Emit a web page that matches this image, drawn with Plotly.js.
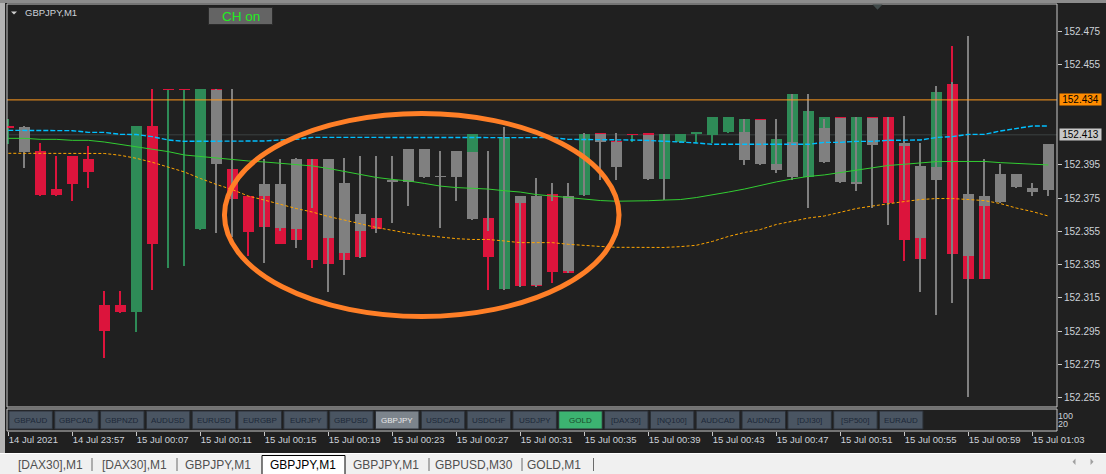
<!DOCTYPE html>
<html><head><meta charset="utf-8">
<script src="https://cdn.plot.ly/plotly-3.0.1.min.js"></script>
<style>html,body{margin:0;padding:0;background:#202020;overflow:hidden}#chart{width:1106px;height:474px}</style>
</head><body><div id="chart"></div>
<script>
// ---------- DATA ----------
const barIndex = [0,1,2,3,4,5,6,7,8,9,10,11,12,13,14,15,16,17,18,19,20,21,22,23,24,25,26,27,28,29,30,31,32,33,34,35,36,37,38,39,40,41,42,43,44,45,46,47,48,49,50,51,52,53,54,55,56,57,58,59,60,61,62,63,64,65];
const timeTickBars = [0,4,8,12,16,20,24,28,32,36,40,44,48,52,56,60,64];
const timeTickLabels = ["14 Jul 2021","14 Jul 23:57","15 Jul 00:07","15 Jul 00:11","15 Jul 00:15","15 Jul 00:19","15 Jul 00:23","15 Jul 00:27","15 Jul 00:31","15 Jul 00:35","15 Jul 00:39","15 Jul 00:43","15 Jul 00:47","15 Jul 00:51","15 Jul 00:55","15 Jul 00:59","15 Jul 01:03"];
const priceTicks = [152.255,152.275,152.295,152.315,152.335,152.355,152.375,152.395,152.455,152.475];

// coloured (main) candles
const cOpen  = [152.4177,null,152.4033,152.3805,152.4003,152.3985,152.3107,152.3107,152.3065,152.4183,152.4404,152.4404,152.3566,152.4406,152.3925,152.3762,152.3762,152.3835,152.3564,152.3983,152.3512,152.3418,152.3552,152.3630,null,null,null,null,null,152.4027,152.3630,152.3203,152.3720,152.3762,152.3773,152.3762,152.3768,152.4140,152.4096,152.4133,152.4140,152.3865,152.4089,152.4133,152.4131,152.4149,152.4149,152.4228,152.3955,152.4089,152.3877,152.4171,152.4240,152.3847,152.4240,152.4237,152.4065,152.3512,152.3937,152.4437,152.3402,152.3704,null,null,null,null];
const cHigh  = [152.4225,null,152.4081,152.4003,152.4003,152.4063,152.3191,152.3191,152.4183,152.4406,152.4406,152.4406,152.4406,152.4406,152.3925,152.3762,152.3762,152.3835,152.3564,152.3983,152.3512,152.3418,152.3552,152.3630,null,null,null,null,null,152.4133,152.3630,152.4117,152.3720,152.3762,152.3773,152.3762,152.4133,152.4140,152.4096,152.4133,152.4140,152.4133,152.4133,152.4147,152.4237,152.4237,152.4225,152.4228,152.4105,152.4375,152.4273,152.4237,152.4240,152.4237,152.4240,152.4237,152.4065,152.3512,152.4389,152.4664,152.3402,152.3704,null,null,null,null];
const cLow   = [152.4075,null,152.3764,152.3764,152.3734,152.3812,152.2790,152.3061,152.2947,152.3197,152.3331,152.3343,152.3558,152.4300,152.3743,152.3404,152.3578,152.3474,152.3498,152.3331,152.3354,152.3378,152.3398,152.3564,null,null,null,null,null,152.4027,152.3197,152.3203,152.3221,152.3221,152.3239,152.3302,152.3768,152.4090,152.4000,152.4085,152.4000,152.3865,152.4079,152.4079,152.4081,152.4143,152.4149,152.4000,152.3955,152.4089,152.3877,152.4171,152.4000,152.3847,152.4100,152.3718,152.3373,152.3384,152.3937,152.3414,152.3265,152.3265,null,null,null,null];
const cClose = [152.4177,null,152.3768,152.3768,152.3836,152.3908,152.2953,152.3067,152.4183,152.3474,152.4404,152.4404,152.4406,152.4300,152.3743,152.3548,152.3578,152.3474,152.3498,152.3378,152.3354,152.3378,152.3398,152.3564,null,null,null,null,null,152.4133,152.3398,152.4117,152.3221,152.3221,152.3306,152.3302,152.4133,152.4090,152.4000,152.4133,152.4000,152.4133,152.4133,152.4147,152.4237,152.4237,152.4225,152.4000,152.4105,152.4375,152.4273,152.4237,152.4000,152.4237,152.4100,152.3718,152.3498,152.3384,152.4389,152.3414,152.3265,152.3265,null,null,null,null];

// grey overlay candles (body top / bottom, wick high / low)
const gTop  = [null,152.4177,null,null,null,null,null,null,null,null,null,null,null,152.4397,null,null,152.3835,152.3835,152.3985,null,152.3985,152.3841,152.3654,null,152.3853,152.4045,152.4045,152.3881,152.4033,152.4027,null,null,152.3762,152.3762,null,152.3762,null,152.4133,152.4089,null,152.4130,null,null,null,null,null,152.4149,152.4221,152.3955,152.4089,null,152.4171,152.4230,152.3847,152.4230,null,152.4081,152.3945,152.3937,null,152.3774,152.3762,152.3895,152.3895,152.3812,152.4075];
const gBot  = [null,152.4029,null,null,null,null,null,null,null,null,null,null,null,152.3957,null,null,152.3762,152.3572,152.3564,null,152.3512,152.3418,152.3552,null,152.3853,152.3848,152.3878,152.3881,152.3878,152.3626,null,null,152.3720,152.3226,null,152.3310,null,152.4089,152.3937,null,152.3865,null,null,null,null,null,152.3979,152.3955,152.3919,152.3877,null,152.3967,152.3847,152.3835,152.4069,null,152.4065,152.3512,152.3859,null,152.3402,152.3704,152.3726,152.3818,152.3788,152.3800];
const gHigh = [null,152.4185,null,null,null,null,null,null,null,null,null,null,null,152.4406,152.4406,null,152.3983,152.3983,152.3991,152.3983,152.3985,152.3991,152.4003,152.4003,152.4003,152.4045,152.4045,152.4033,152.4033,152.4027,152.4033,152.4177,152.3762,152.3871,152.3841,152.3841,152.4139,152.4133,152.4139,null,152.4130,152.4133,null,null,null,null,152.4225,152.4221,152.4225,152.4375,152.4375,152.4225,152.4230,152.4237,152.4230,152.4237,152.4243,152.4081,152.4424,152.4449,152.4724,152.3985,152.3955,152.3895,152.3841,152.4075];
const gLow  = [null,152.3933,null,null,null,null,null,null,null,null,null,null,null,152.3542,152.3518,null,152.3361,152.3554,152.3452,152.3692,152.3187,152.3288,152.3392,152.3542,152.3602,152.3702,152.3872,152.3572,152.3732,152.3618,152.3554,152.3197,152.3217,152.3217,152.3732,152.3301,152.3762,152.3859,152.3859,null,152.3859,152.3738,null,null,null,null,152.3949,152.3949,152.3901,152.3859,152.3692,152.3961,152.3841,152.3792,152.3692,152.3588,152.3738,152.3187,152.3049,152.3121,152.2556,152.3262,152.3720,152.3812,152.3764,152.3764];

// moving averages
const maBlue   = [152.4157,152.4157,152.4157,152.4157,152.4155,152.4145,152.4145,152.4133,152.4132,152.4119,152.4099,152.4091,152.4091,152.4091,152.4091,152.4091,152.4093,152.4099,152.4103,152.4115,152.4115,152.4115,152.4115,152.4115,152.4115,152.4115,152.4115,152.4115,152.4115,152.4113,152.4113,152.4113,152.4113,152.4113,152.4113,152.4103,152.4103,152.4099,152.4099,152.4099,152.4096,152.4093,152.4087,152.4081,152.4073,152.4073,152.4073,152.4073,152.4073,152.4073,152.4073,152.4085,152.4085,152.4091,152.4091,152.4097,152.4099,152.4099,152.4114,152.4119,152.4133,152.4133,152.4153,152.4169,152.4183,152.4183];
const maGreen  = [152.4109,152.4109,152.4103,152.4103,152.4097,152.4097,152.4087,152.4073,152.4061,152.4045,152.4029,152.4009,152.3999,152.3989,152.3979,152.3973,152.3967,152.3958,152.3952,152.3943,152.3928,152.3910,152.3892,152.3874,152.3862,152.3853,152.3838,152.3822,152.3813,152.3810,152.3804,152.3794,152.3786,152.3771,152.3762,152.3753,152.3741,152.3735,152.3731,152.3731,152.3734,152.3738,152.3741,152.3753,152.3768,152.3786,152.3804,152.3826,152.3847,152.3865,152.3880,152.3889,152.3904,152.3919,152.3934,152.3946,152.3953,152.3959,152.3969,152.3970,152.3971,152.3970,152.3963,152.3957,152.3952,152.3949];
const maOrange = [152.4019,152.4019,152.4019,152.4019,152.4019,152.4019,152.4018,152.4007,152.3989,152.3965,152.3934,152.3907,152.3868,152.3832,152.3801,152.3762,152.3738,152.3711,152.3687,152.3666,152.3639,152.3618,152.3595,152.3573,152.3556,152.3538,152.3526,152.3516,152.3506,152.3501,152.3501,152.3492,152.3482,152.3482,152.3482,152.3472,152.3464,152.3459,152.3454,152.3453,152.3450,152.3453,152.3458,152.3466,152.3489,152.3519,152.3543,152.3561,152.3591,152.3609,152.3630,152.3642,152.3663,152.3687,152.3702,152.3717,152.3729,152.3741,152.3747,152.3747,152.3741,152.3735,152.3717,152.3690,152.3669,152.3642];

const askPrice = 152.434;
const bidPrice = 152.413;
const highlight = {barFrom: 13.51, barTo: 38.17, priceLow: 152.3038, priceHigh: 152.4258};

const symbolButtons = ["GBPAUD","GBPCAD","GBPNZD","AUDUSD","EURUSD","EURGBP","EURJPY","GBPUSD","GBPJPY","USDCAD","USDCHF","USDJPY","GOLD","[DAX30]","[NQ100]","AUDCAD","AUDNZD","[DJI30]","[SP500]","EURAUD"];
const tabLabels = ["[DAX30],M1","[DAX30],M1","GBPJPY,M1","GBPJPY,M1","GBPJPY,M1","GBPUSD,M30","GOLD,M1"];
const subScaleTicks = [20,100];

// ---------- STYLE ----------
const BG = '#202020', FRAME = '#c8c8c8', TXT = '#cdd2d8';
const GREEN = '#2e8b57', RED = '#dc143c', GREY = '#808080';
const SANS = 'Liberation Sans, Arial, sans-serif';
const MINH = 0.0007;

// pixel -> paper helpers for chrome (plot area: x 7..1057, y 4..431)
const PX = p => (p - 7) / 1050;
const PY = p => (431 - p) / 427;

function bodyBase(o, c) { if (o == null || c == null) return null; const d = Math.abs(c - o); return Math.min(o, c) - (d < MINH ? (MINH - d) / 2 : 0); }
function bodyLen(o, c) { if (o == null || c == null) return null; return Math.max(Math.abs(c - o), MINH); }

const cBodyColor = barIndex.map(i => (cClose[i] > cOpen[i]) ? GREEN : RED);
const cWickColor = barIndex.map(i => (cClose[i] >= cOpen[i]) ? GREEN : RED);

const common = {type: 'bar', x: barIndex, hoverinfo: 'skip', yaxis: 'y', xaxis: 'x', showlegend: false};
const traces = [
  Object.assign({}, common, {base: cLow, y: barIndex.map(i => cHigh[i] == null ? null : cHigh[i] - cLow[i]), width: 0.125, marker: {color: cWickColor, line: {width: 0}}}),
  Object.assign({}, common, {base: barIndex.map(i => bodyBase(cOpen[i], cClose[i])), y: barIndex.map(i => bodyLen(cOpen[i], cClose[i])), width: 0.6875, marker: {color: cBodyColor, line: {width: 0}}}),
  Object.assign({}, common, {base: gLow, y: barIndex.map(i => gHigh[i] == null ? null : gHigh[i] - gLow[i]), width: 0.125, marker: {color: GREY, line: {width: 0}}}),
  Object.assign({}, common, {base: barIndex.map(i => bodyBase(gTop[i], gBot[i])), y: barIndex.map(i => bodyLen(gTop[i], gBot[i])), width: 0.6875, marker: {color: GREY, line: {width: 0}}}),
  {type: 'scatter', mode: 'lines', x: barIndex, y: maGreen, line: {color: '#32cd32', width: 1}, hoverinfo: 'skip', showlegend: false},
  {type: 'scatter', mode: 'lines', x: barIndex, y: maOrange, line: {color: '#ffa500', width: 1, dash: '3px,2px'}, hoverinfo: 'skip', showlegend: false},
  {type: 'scatter', mode: 'lines', x: barIndex, y: maBlue, line: {color: '#00bfff', width: 1.4, dash: '5px,2px'}, hoverinfo: 'skip', showlegend: false},
  {type: 'scatter', mode: 'markers', x: [0, 0], y: subScaleTicks, yaxis: 'y2', marker: {opacity: 0}, hoverinfo: 'skip', showlegend: false}
];

const shapes = [
  // window chrome
  {type: 'rect', xref: 'paper', yref: 'paper', x0: PX(0), x1: PX(5), y0: PY(453), y1: PY(0), fillcolor: '#b4b4b4', line: {width: 0}},
  {type: 'rect', xref: 'paper', yref: 'paper', x0: PX(0), x1: PX(1106), y0: PY(3), y1: PY(0), fillcolor: '#8c8c8c', line: {width: 0}},
  {type: 'rect', xref: 'paper', yref: 'paper', x0: PX(0), x1: PX(1106), y0: PY(474), y1: PY(453), fillcolor: '#f0f0f0', line: {width: 0}},
  {type: 'line', xref: 'paper', yref: 'paper', x0: PX(0), x1: PX(1106), y0: PY(453.5), y1: PY(453.5), line: {color: '#ffffff', width: 1}},
  // bid line (behind candles)
  {type: 'line', layer: 'below', xref: 'x domain', yref: 'y', x0: 0, x1: 1, y0: bidPrice, y1: bidPrice, line: {color: '#3c4242', width: 1}},
  // ask line
  {type: 'line', xref: 'x domain', yref: 'y', x0: 0, x1: 1, y0: askPrice, y1: askPrice, line: {color: '#ff9a1e', width: 1}},
  // frames
  {type: 'rect', xref: 'x domain', yref: 'y domain', x0: 0, x1: 1, y0: 0, y1: 1, line: {color: FRAME, width: 1}},
  {type: 'rect', xref: 'x domain', yref: 'y2 domain', x0: 0, x1: 1, y0: 0, y1: 1, line: {color: FRAME, width: 1}},
  // highlight ellipse
  {type: 'circle', xref: 'x', yref: 'y', x0: highlight.barFrom, x1: highlight.barTo, y0: highlight.priceLow, y1: highlight.priceHigh, line: {color: '#ff7f27', width: 5}},
  // title triangle
  {type: 'path', xref: 'paper', yref: 'paper', path: `M ${PX(11)} ${PY(11.5)} L ${PX(17)} ${PY(11.5)} L ${PX(14)} ${PY(14.5)} Z`, fillcolor: '#d0d0d0', line: {width: 0}},
  // shift marker
  {type: 'path', xref: 'paper', yref: 'paper', path: `M ${PX(872.5)} ${PY(4.5)} L ${PX(882.5)} ${PY(4.5)} L ${PX(877.5)} ${PY(9.7)} Z`, fillcolor: '#404a4a', line: {width: 0}},
  // CH on button
  {type: 'rect', xref: 'paper', yref: 'paper', x0: PX(208.5), x1: PX(272.5), y0: PY(24.5), y1: PY(7.5), fillcolor: '#646464', line: {color: '#2a2a2a', width: 1}},
  // active tab
  {type: 'rect', xref: 'paper', yref: 'paper', x0: PX(262), x1: PX(345), y0: PY(475), y1: PY(455.5), fillcolor: '#ffffff', line: {color: '#000000', width: 1}},
  // tab scroll arrows
  {type: 'path', xref: 'paper', yref: 'paper', path: `M ${PX(1075.5)} ${PY(458.5)} L ${PX(1075.5)} ${PY(465)} L ${PX(1072.5)} ${PY(461.7)} Z`, fillcolor: '#a0a0a0', line: {width: 0}},
  {type: 'path', xref: 'paper', yref: 'paper', path: `M ${PX(1090.5)} ${PY(458.5)} L ${PX(1090.5)} ${PY(465)} L ${PX(1093.5)} ${PY(461.7)} Z`, fillcolor: '#a0a0a0', line: {width: 0}}
];

const annotations = [
  {xref: 'paper', yref: 'paper', x: PX(22.5), y: PY(12.5), xanchor: 'left', yanchor: 'middle', text: 'GBPJPY,M1', showarrow: false, font: {family: SANS, size: 9.5, color: TXT}},
  {xref: 'paper', yref: 'paper', x: PX(240.5), y: PY(16), xanchor: 'center', yanchor: 'middle', text: 'CH on', showarrow: false, font: {family: SANS, size: 13.5, color: '#22ee22'}},
  {xref: 'paper', yref: 'y', x: PX(1059), y: askPrice, xanchor: 'left', yanchor: 'middle', text: askPrice.toFixed(3), showarrow: false, bgcolor: '#ff8c00', borderpad: 0, width: 41, height: 11, font: {family: SANS, size: 10, color: '#000000'}},
  {xref: 'paper', yref: 'y', x: PX(1059), y: bidPrice, xanchor: 'left', yanchor: 'middle', text: bidPrice.toFixed(3), showarrow: false, bgcolor: '#c8c8c8', borderpad: 0, width: 41, height: 11, font: {family: SANS, size: 10, color: '#000000'}}
];

// symbol buttons
symbolButtons.forEach((name, k) => {
  const x0 = 8.9 + 45.82 * k, x1 = x0 + 43.5;
  let fill = '#4a5562', txt = '#1c2838';
  if (name === 'GBPJPY') { fill = '#7c848c'; txt = '#e8e8e8'; }
  if (name === 'GOLD') { fill = '#3cb371'; txt = '#1a4a2a'; }
  shapes.push({type: 'rect', xref: 'paper', yref: 'paper', x0: PX(x0), x1: PX(x1), y0: PY(429), y1: PY(411), fillcolor: fill, line: {color: '#2a2f36', width: 1}});
  annotations.push({xref: 'paper', yref: 'paper', x: PX((x0 + x1) / 2), y: PY(420), xanchor: 'center', yanchor: 'middle', text: name, showarrow: false, font: {family: SANS, size: 8, color: txt}});
});

// tab bar
const tabCenters = [50, 134, 217.5, 303, 385.5, 474, 554];
const tabSeparators = [92, 177, 429, 522, 593.5];
tabLabels.forEach((t, k) => {
  annotations.push({xref: 'paper', yref: 'paper', x: PX(tabCenters[k]), y: PY(464.5), xanchor: 'center', yanchor: 'middle', text: t, showarrow: false, font: {family: SANS, size: 12, color: k === 3 ? '#000000' : '#505050'}});
});
tabSeparators.forEach(s => shapes.push({type: 'line', xref: 'paper', yref: 'paper', x0: PX(s), x1: PX(s), y0: PY(458), y1: PY(471), line: {color: '#6a6a6a', width: 1}}));

const layout = {
  width: 1106, height: 474,
  margin: {l: 7, r: 49, t: 4, b: 43, pad: 0},
  paper_bgcolor: BG, plot_bgcolor: BG,
  barmode: 'overlay', bargap: 0,
  showlegend: false,
  xaxis: {domain: [0, 1], range: [-0.08125, 65.544], anchor: 'y2', tickmode: 'array', tickvals: timeTickBars, ticktext: timeTickLabels,
          ticks: 'outside', ticklen: 4, tickwidth: 1, tickcolor: FRAME, ticklabelposition: 'outside right', tickangle: 0, automargin: false,
          tickfont: {family: SANS, size: 9.5, color: TXT}, showgrid: false, zeroline: false, showline: false, fixedrange: true},
  yaxis: {domain: [0.05621, 1], range: [152.2494, 152.49165], side: 'right', anchor: 'x', tickmode: 'array', tickvals: priceTicks, tickformat: '.3f',
          ticks: 'outside', ticklen: 4, tickwidth: 1, tickcolor: FRAME, tickfont: {family: SANS, size: 10, color: TXT}, automargin: false,
          showgrid: false, zeroline: false, showline: false, fixedrange: true},
  yaxis2: {domain: [0, 0.05152], range: [-53, 167], side: 'right', anchor: 'x', tickmode: 'array', tickvals: subScaleTicks, ticks: '', automargin: false,
          tickfont: {family: SANS, size: 9, color: TXT}, showgrid: false, zeroline: false, showline: false, fixedrange: true},
  shapes: shapes,
  annotations: annotations
};

Plotly.newPlot('chart', traces, layout, {displayModeBar: false, staticPlot: true});
</script>
</body></html>
